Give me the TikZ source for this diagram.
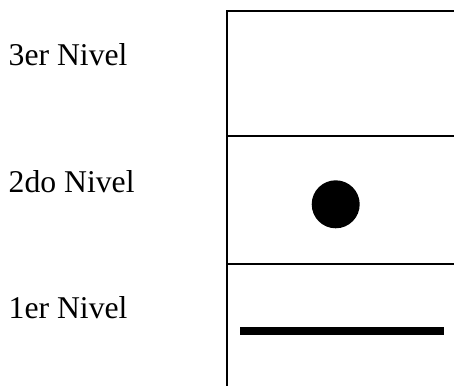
\documentclass[tikz,border=0pt]{standalone}
\usepackage{fontspec}
\setmainfont{Liberation Serif}
\begin{document}
\begin{tikzpicture}[x=1pt,y=-1pt,
  lbl/.style={anchor=base west,inner sep=0pt,font=\fontsize{31.7}{36}\selectfont},
  frame/.style={line width=2pt,line cap=rect}]
\useasboundingbox (0,0) rectangle (454,385);
\node[lbl] (n3) at (8.5,65.7) {3er Nivel};
\node[lbl] (n2) at (8.5,192.3) {2do Nivel};
\node[lbl] (n1) at (8.5,318.3) {1er Nivel};
\coordinate (tl) at (227,11);
\coordinate (tr) at (454,11);
\coordinate (bl) at (227,385);
\draw[frame] (tr) -- (tl) -- (bl);
\draw[line width=2pt] (227,135.7) -- (454,135.7);
\draw[line width=2pt] (227,264) -- (454,264);
\fill (335.7,204.3) circle (24);
\fill (240,326.7) rectangle (444,334.7);
\end{tikzpicture}
\end{document}
